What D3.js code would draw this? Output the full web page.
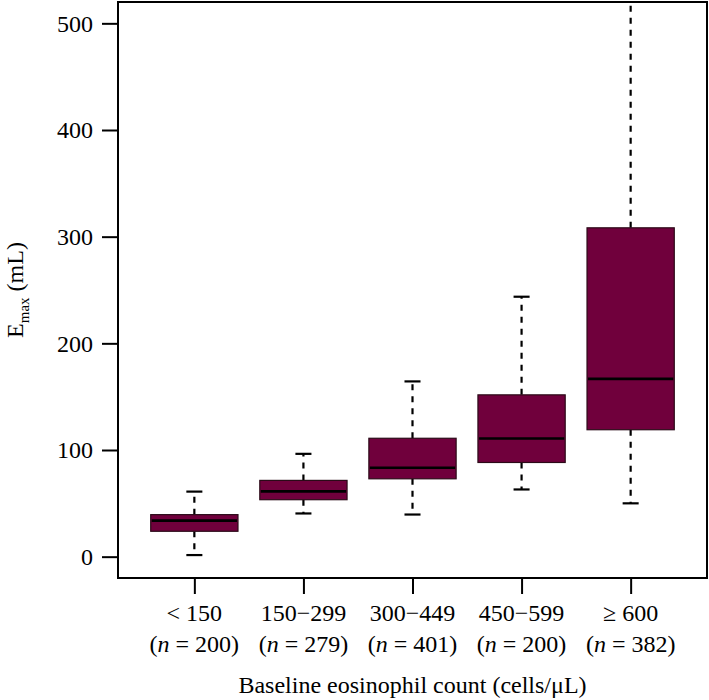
<!DOCTYPE html>
<html>
<head>
<meta charset="utf-8">
<script src="https://cdn.jsdelivr.net/npm/d3@7"></script>
<style>
  html, body { margin: 0; padding: 0; background: #fff; }
  svg text { font-family: "Liberation Serif", "DejaVu Serif", serif; fill: #000; }
</style>
</head>
<body>
<svg id="chart" width="709" height="700"></svg>
<script>
// ---- data ----
const categories = ["< 150", "150\u2212299", "300\u2212449", "450\u2212599", "\u2265 600"];
const groupN     = [200, 279, 401, 200, 382];
const whiskerLow = [1.5, 40.5, 39.5, 63, 50];
const q1         = [23.8, 53.4, 73, 88.3, 119];
const median     = [33.8, 61.2, 83.3, 110.8, 166.7];
const q3         = [39.4, 71.5, 111, 151.7, 308.3];
const whiskerHigh= [61, 96.4, 164.3, 243.7, 590];
const yTicks     = [0, 100, 200, 300, 400, 500];

(function () {
const svg = d3.select("#chart");
const pL = 118, pR = 707, pT = 2, pB = 578;

const x = d3.scaleLinear().domain([0.3, 5.7]).range([pL, pR]);
const y = d3.scaleLinear().domain([-20, 520]).range([pB, pT]);

const boxW = x(0.8) - x(0);
const capW = x(0.147) - x(0);

const data = categories.map((c, i) => ({
  i: i + 1, c, n: groupN[i], lo: whiskerLow[i], q1: q1[i], med: median[i], q3: q3[i], hi: whiskerHigh[i]
}));

svg.append("defs").append("clipPath").attr("id", "plotclip")
  .append("rect").attr("x", pL).attr("y", pT).attr("width", pR - pL).attr("height", pB - pT);

const g = svg.append("g").attr("clip-path", "url(#plotclip)");

const fill = "#70003c";

data.forEach(d => {
  const cx = x(d.i);
  g.append("line").attr("x1", cx).attr("x2", cx).attr("y1", y(d.q3)).attr("y2", y(d.hi))
    .attr("stroke", "#000").attr("stroke-width", 2.2).attr("stroke-dasharray", "6,6");
  g.append("line").attr("x1", cx).attr("x2", cx).attr("y1", y(d.q1)).attr("y2", y(d.lo))
    .attr("stroke", "#000").attr("stroke-width", 2.2).attr("stroke-dasharray", "6,6");
  [d.lo, d.hi].forEach(v => {
    g.append("line").attr("x1", cx - capW / 2).attr("x2", cx + capW / 2)
      .attr("y1", y(v)).attr("y2", y(v)).attr("stroke", "#000").attr("stroke-width", 2.2);
  });
  g.append("rect").attr("x", cx - boxW / 2).attr("width", boxW)
    .attr("y", y(d.q3)).attr("height", y(d.q1) - y(d.q3))
    .attr("fill", fill).attr("stroke", "#2b0a18").attr("stroke-width", 1.2);
  g.append("line").attr("x1", cx - boxW / 2 + 1).attr("x2", cx + boxW / 2 - 1)
    .attr("y1", y(d.med)).attr("y2", y(d.med)).attr("stroke", "#000").attr("stroke-width", 2.6);
});

svg.append("rect").attr("x", pL).attr("y", pT).attr("width", pR - pL).attr("height", pB - pT)
  .attr("fill", "none").attr("stroke", "#000").attr("stroke-width", 2);

const yAxis = svg.append("g").attr("transform", `translate(${pL},0)`)
  .call(d3.axisLeft(y).tickValues(yTicks).tickSize(16).tickPadding(9).tickFormat(d3.format("d")));
yAxis.select(".domain").remove();
yAxis.selectAll(".tick line").attr("stroke", "#000").attr("stroke-width", 2);
yAxis.selectAll(".tick text").style("font-size", "24px").style("font-family", "'Liberation Serif', serif").attr("fill", "#000");

const xAxis = svg.append("g").attr("transform", `translate(0,${pB})`)
  .call(d3.axisBottom(x).tickValues(data.map(d => d.i)).tickSize(16).tickFormat(""));
xAxis.select(".domain").remove();
xAxis.selectAll(".tick line").attr("stroke", "#000").attr("stroke-width", 2);

data.forEach(d => {
  svg.append("text").attr("x", x(d.i)).attr("y", 621).attr("text-anchor", "middle")
    .style("font-size", "24px").text(d.c);
  const t = svg.append("text").attr("x", x(d.i)).attr("y", 652).attr("text-anchor", "middle")
    .style("font-size", "24px");
  t.append("tspan").text("(");
  t.append("tspan").attr("font-style", "italic").text("n");
  t.append("tspan").text(" = " + d.n + ")");
});

svg.append("text").attr("x", (pL + pR) / 2).attr("y", 693).attr("text-anchor", "middle")
  .style("font-size", "24px").text("Baseline eosinophil count (cells/\u03bcL)");

const yt = svg.append("text").attr("transform", `translate(23,${(pT + pB) / 2}) rotate(-90)`)
  .attr("text-anchor", "middle").style("font-size", "24px");
yt.append("tspan").text("E");
yt.append("tspan").attr("dy", 6).style("font-size", "15px").text("max");
yt.append("tspan").attr("dy", -6).text(" (mL)");
})();
</script>
</body>
</html>
